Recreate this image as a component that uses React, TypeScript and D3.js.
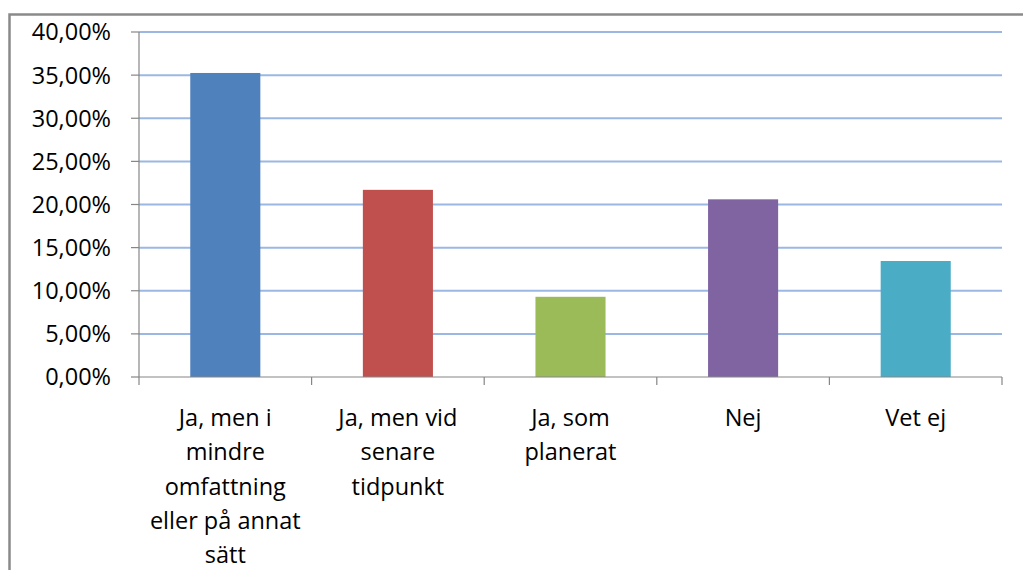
import React, { useEffect, useRef } from "react";
import * as d3 from "d3";

const categories = [
  "Ja, men i\nmindre\nomfattning\neller på annat\nsätt",
  "Ja, men vid\nsenare\ntidpunkt",
  "Ja, som\nplanerat",
  "Nej",
  "Vet ej",
];
const values = [35.25, 21.7, 9.3, 20.6, 13.45];
const colors = ["#4F81BD", "#C0504D", "#9BBB59", "#8064A2", "#4BACC6"];
const yTicks = [0, 5, 10, 15, 20, 25, 30, 35, 40];

const W = 1023;
const H = 570;
const FONT = "'Open Sans', sans-serif";

export default function App() {
  const ref = useRef<SVGSVGElement>(null);

  useEffect(() => {
    const svg = d3.select(ref.current);
    svg.selectAll("*").remove();

    const left = 139, right = 1002, top = 32, bottom = 377;
    const x = d3.scaleBand<string>().domain(categories).range([left, right]).paddingInner(0.594).paddingOuter(0.297);
    const y = d3.scaleLinear().domain([0, 40]).range([bottom, top]);

    svg.append("rect").attr("width", W).attr("height", H).attr("fill", "#fff");
    // outer frame
    svg.append("rect").attr("x", 9.5).attr("y", 14.5).attr("width", W + 20).attr("height", H + 20)
      .attr("fill", "none").attr("stroke", "#8a8a8a").attr("stroke-width", 2.5);

    // gridlines
    svg.append("g").selectAll("line").data(yTicks.filter(t => t > 0)).join("line")
      .attr("x1", left).attr("x2", right)
      .attr("y1", d => y(d)).attr("y2", d => y(d))
      .attr("stroke", "#9BB8E4").attr("stroke-width", 2);

    // bars
    svg.append("g").selectAll("rect").data(values).join("rect")
      .attr("x", (_, i) => x(categories[i])!)
      .attr("width", x.bandwidth())
      .attr("y", d => y(d))
      .attr("height", d => bottom - y(d))
      .attr("fill", (_, i) => colors[i]);

    // y axis
    const ya = svg.append("g");
    ya.append("line").attr("x1", left).attr("x2", left).attr("y1", top).attr("y2", bottom).attr("stroke", "#868686").attr("stroke-width", 1.2);
    ya.selectAll("line.t").data(yTicks).join("line").attr("class", "t")
      .attr("x1", left - 8).attr("x2", left).attr("y1", d => y(d)).attr("y2", d => y(d))
      .attr("stroke", "#868686").attr("stroke-width", 1.2);
    const fmt = (d: number) => d.toFixed(2).replace(".", ",") + "%";
    ya.selectAll("text").data(yTicks).join("text")
      .attr("x", left - 28).attr("y", d => y(d)).attr("dy", "0.36em")
      .attr("text-anchor", "end").attr("font-family", FONT).attr("font-size", 23.5)
      .attr("fill", "#000").text(d => fmt(d));

    // x axis
    const xa = svg.append("g");
    xa.append("line").attr("x1", left).attr("x2", right).attr("y1", bottom).attr("y2", bottom).attr("stroke", "#868686").attr("stroke-width", 1.2);
    const tickXs = d3.range(categories.length + 1).map(i => left + i * (right - left) / categories.length);
    xa.selectAll("line.t").data(tickXs).join("line").attr("class", "t")
      .attr("x1", d => d).attr("x2", d => d).attr("y1", bottom).attr("y2", bottom + 8)
      .attr("stroke", "#868686").attr("stroke-width", 1.2);

    categories.forEach((c) => {
      const cx = x(c)! + x.bandwidth() / 2;
      const lines = c.split("\n");
      const t = xa.append("text").attr("text-anchor", "middle").attr("font-family", FONT)
        .attr("font-size", 23.5).attr("fill", "#000");
      lines.forEach((l, j) => {
        t.append("tspan").attr("x", cx).attr("y", 426 + j * 34.3).text(l);
      });
    });
  }, []);

  return (
    <svg ref={ref} width={W} height={H} style={{ position: "absolute", left: 0, top: 0, display: "block" }} />
  );
}
